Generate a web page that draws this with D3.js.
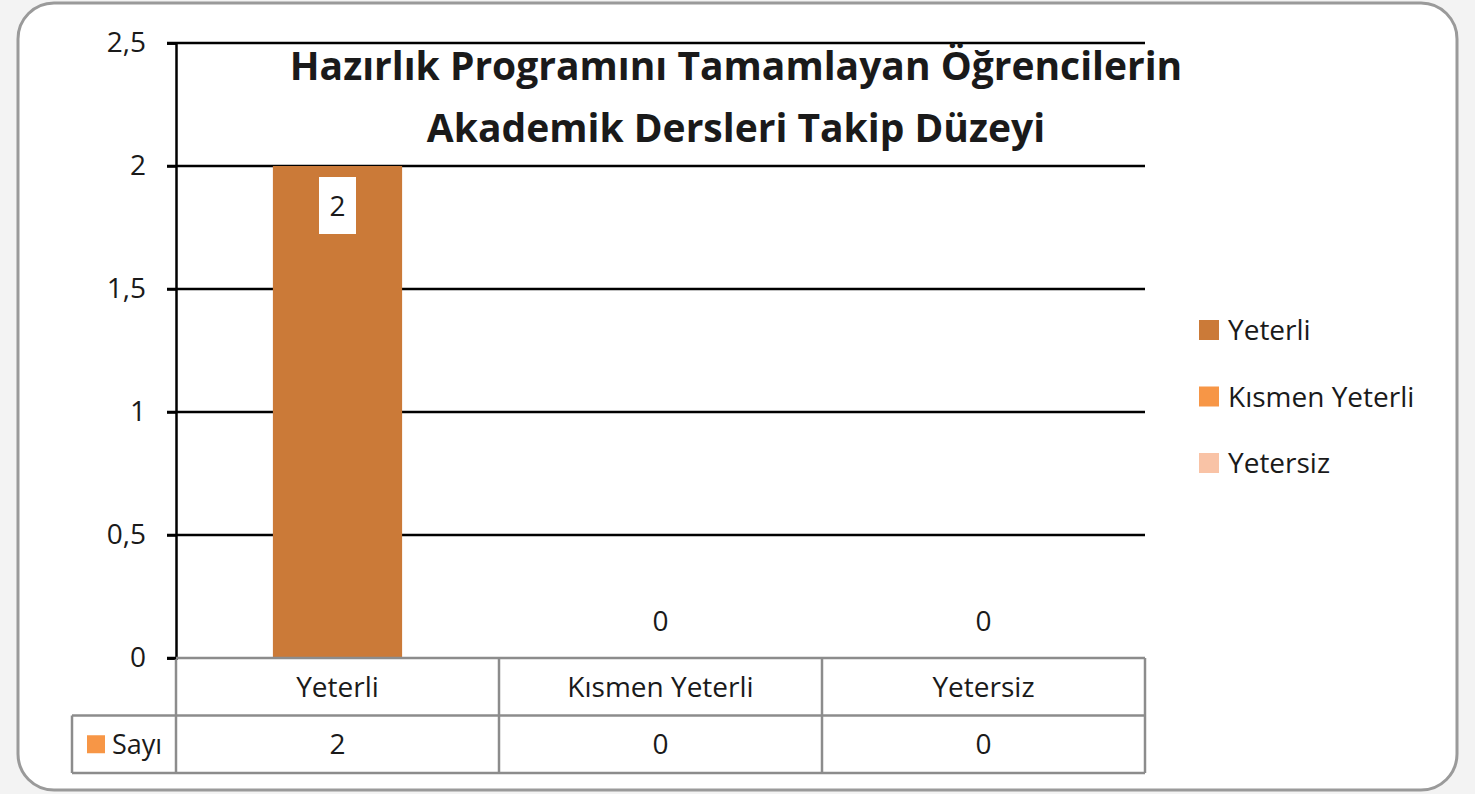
<!DOCTYPE html>
<meta charset="utf-8">
<style>
  html, body { margin: 0; padding: 0; background: #f3f3f3; }
  svg { display: block; }
  text { font-family: "Open Sans", "Noto Sans", sans-serif; fill: #1a1a1a; }
</style>
<svg></svg>
<script src="https://cdn.jsdelivr.net/npm/d3@7/dist/d3.min.js"></script>
<script>
// chart data
var categories = ["Yeterli", "Kısmen Yeterli", "Yetersiz"],
    values = [2, 0, 0],
    seriesName = "Sayı",
    yTicks = [0, 0.5, 1, 1.5, 2, 2.5],
    titleLines = ["Hazırlık Programını Tamamlayan Öğrencilerin", "Akademik Dersleri Takip Düzeyi"],
    legendColors = ["#cb7a38", "#f79646", "#f9c3a6"];

var svg = d3.select("svg").attr("width", 1475).attr("height", 794);

// card background
svg.append("rect")
   .attr("x", 18).attr("y", 3)
   .attr("width", 1439).attr("height", 787)
   .attr("rx", 36).attr("ry", 36)
   .attr("fill", "#fff")
   .attr("stroke", "#9a9a9a")
   .attr("stroke-width", 3);

var plot = {left: 176, right: 1145, top: 43, bottom: 658},
    rowH = 57.5,
    fs = "28px";

var fmt = function(d) { return String(d).replace(".", ","); };

var x = d3.scaleBand().domain(categories).range([plot.left, plot.right]).paddingInner(0).paddingOuter(0);
var y = d3.scaleLinear().domain([0, 2.5]).range([plot.bottom, plot.top]);

var g = svg.append("g");

// grid lines
g.selectAll(".grid").data(yTicks.filter(function(d) { return d > 0; }))
  .enter().append("line")
  .attr("x1", plot.left - 9).attr("x2", plot.right)
  .attr("y1", function(d) { return y(d); }).attr("y2", function(d) { return y(d); })
  .attr("stroke", "#000").attr("stroke-width", 2.5);

// y axis
var yAxis = g.append("g")
  .attr("transform", "translate(" + plot.left + ",0)")
  .call(d3.axisLeft(y).tickValues(yTicks).tickFormat(fmt).tickSize(9).tickPadding(21));
yAxis.select(".domain").attr("stroke", "#000").attr("stroke-width", 2.5);
yAxis.selectAll(".tick line").attr("stroke", "#000").attr("stroke-width", 2.5);
yAxis.selectAll(".tick text")
  .style("font-size", fs).style("font-family", "\"Open Sans\", sans-serif")
  .attr("fill", "#1a1a1a");

// bars
var barW = x.bandwidth() * 0.4;
g.selectAll(".bar").data(values)
  .enter().append("rect")
  .attr("x", function(d, i) { return x(categories[i]) + (x.bandwidth() - barW) / 2; })
  .attr("y", function(d) { return y(d); })
  .attr("width", barW)
  .attr("height", function(d) { return y(0) - y(d); })
  .attr("fill", legendColors[0]);

// data labels
values.forEach(function(v, i) {
  var cx = x(categories[i]) + x.bandwidth() / 2;
  if (v > 0) {
    g.append("rect")
      .attr("x", cx - 18.5).attr("y", y(v) + 11)
      .attr("width", 37).attr("height", 57)
      .attr("fill", "#fff");
    g.append("text")
      .attr("x", cx).attr("y", y(v) + 50)
      .attr("text-anchor", "middle")
      .style("font-size", fs)
      .text(fmt(v));
  } else {
    g.append("text")
      .attr("x", cx).attr("y", y(v) - 27)
      .attr("text-anchor", "middle")
      .style("font-size", fs)
      .text(fmt(v));
  }
});

// data table
var tbl = svg.append("g").attr("stroke", "#8c8c8c").attr("stroke-width", 2.5);
tbl.append("line").attr("x1", plot.left).attr("x2", plot.right).attr("y1", plot.bottom).attr("y2", plot.bottom);
tbl.append("line").attr("x1", 72).attr("x2", plot.right).attr("y1", plot.bottom + rowH).attr("y2", plot.bottom + rowH);
tbl.append("line").attr("x1", 72).attr("x2", plot.right).attr("y1", plot.bottom + 2 * rowH).attr("y2", plot.bottom + 2 * rowH);
tbl.append("line").attr("x1", 72).attr("x2", 72).attr("y1", plot.bottom + rowH).attr("y2", plot.bottom + 2 * rowH);
tbl.selectAll(".vl").data(categories.concat(["end"]))
  .enter().append("line")
  .attr("x1", function(d, i) { return plot.left + i * x.bandwidth(); })
  .attr("x2", function(d, i) { return plot.left + i * x.bandwidth(); })
  .attr("y1", plot.bottom).attr("y2", plot.bottom + 2 * rowH);

// black tick for zero
svg.append("line").attr("x1", plot.left - 9).attr("x2", plot.left)
  .attr("y1", plot.bottom).attr("y2", plot.bottom)
  .attr("stroke", "#000").attr("stroke-width", 2.5);

categories.forEach(function(c, i) {
  var cx = x(c) + x.bandwidth() / 2;
  svg.append("text").attr("x", cx).attr("y", plot.bottom + rowH / 2 + 10)
    .attr("text-anchor", "middle").style("font-size", fs).text(c);
  svg.append("text").attr("x", cx).attr("y", plot.bottom + rowH * 1.5 + 10)
    .attr("text-anchor", "middle").style("font-size", fs).text(fmt(values[i]));
});

svg.append("rect").attr("x", 87).attr("y", plot.bottom + rowH * 1.5 - 9)
  .attr("width", 18).attr("height", 18).attr("fill", legendColors[1]);
svg.append("text").attr("x", 112).attr("y", plot.bottom + rowH * 1.5 + 10)
  .style("font-size", "27px").text(seriesName);

// legend
var legend = svg.append("g").attr("transform", "translate(1199,320)");
categories.forEach(function(c, i) {
  legend.append("rect").attr("x", 0).attr("y", i * 66.5)
    .attr("width", 20).attr("height", 20).attr("fill", legendColors[i]);
  legend.append("text").attr("x", 29).attr("y", i * 66.5 + 20)
    .style("font-size", fs).text(c);
});

// title
svg.append("g").selectAll("text").data(titleLines)
  .enter().append("text")
  .attr("x", 736).attr("y", function(d, i) { return 80 + i * 62; })
  .attr("text-anchor", "middle")
  .style("font-size", "39px").style("font-weight", "bold")
  .attr("fill", "#000")
  .text(function(d) { return d; });
</script>
